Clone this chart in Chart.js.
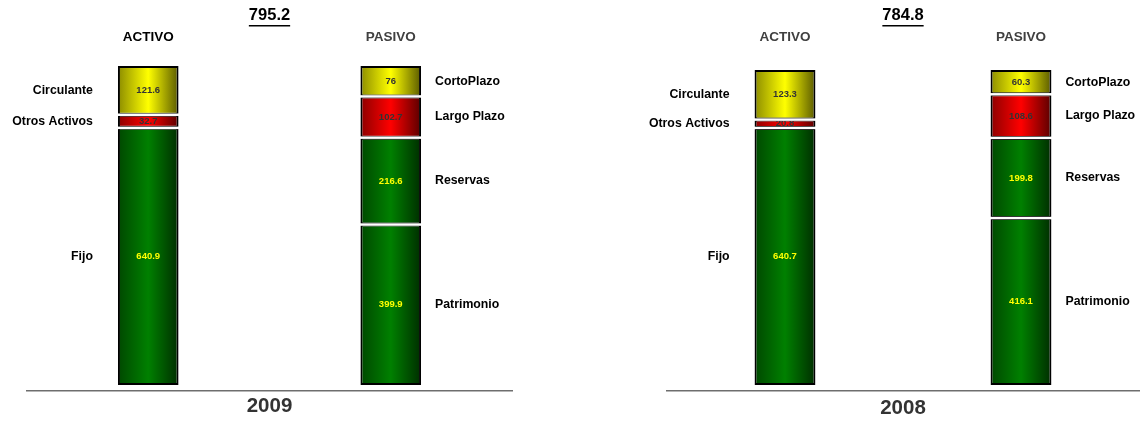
<!DOCTYPE html>
<html>
<head>
<meta charset="utf-8">
<title>Activo / Pasivo 2009 - 2008</title>
<script src="https://cdn.jsdelivr.net/npm/chart.js@4.4.1/dist/chart.umd.min.js"></script>
<style>
  html, body { margin: 0; padding: 0; background: #fff; }
  #wrap { position: relative; width: 1141px; height: 421px; overflow: hidden; }
  .panel { position: absolute; top: 0; }
  canvas { display: block; }
</style>
</head>
<body>
<div id="wrap">
  <div class="panel" style="left:0"><canvas id="c2009" width="570" height="421"></canvas></div>
  <div class="panel" style="left:570px"><canvas id="c2008" width="571" height="421"></canvas></div>
</div>

<script>
/* ── Data ───────────────────────────────────────────────────────────── */
const SIDES        = ['ACTIVO', 'PASIVO'];
const ACTIVO_NAMES = ['Fijo', 'Otros Activos', 'Circulante'];
const PASIVO_NAMES = ['Patrimonio', 'Reservas', 'Largo Plazo', 'CortoPlazo'];

const ACTIVO_2009 = [640.9, 32.7, 121.6];
const PASIVO_2009 = [399.9, 216.6, 102.7, 76];
const ACTIVO_2008 = [640.7, 20.8, 123.3];
const PASIVO_2008 = [416.1, 199.8, 108.6, 60.3];

/* ── Styles ─────────────────────────────────────────────────────────── */
const GREEN  = ['#004800', '#008000', '#002e00'];
const RED    = ['#8c0000', '#ff0000', '#5a0000'];
const YELLOW = ['#8c8c00', '#ffff00', '#5a5a00'];
const ACTIVO_FILLS = [GREEN, RED, YELLOW];
const PASIVO_FILLS = [GREEN, GREEN, RED, YELLOW];
const FONT = '"Liberation Sans", Arial, sans-serif';

const TITLE_SIZE = 16.5;
const TITLE_PAD  = { top: 6, bottom: 4 };
const AREA_TOP   = 56;   // chart area top (px)
const TOP_AXIS_H = AREA_TOP - (TITLE_PAD.top + TITLE_SIZE * 1.2 + TITLE_PAD.bottom);

Chart.defaults.font.family = FONT;

/* ── Helpers ────────────────────────────────────────────────────────── */
function gradientFill(stops, barPct) {
  return (c) => {
    const chart = c.chart;
    const xs = chart.scales.x;
    if (!xs || !chart.chartArea || c.dataIndex == null) return stops[1];
    const cx = xs.getPixelForValue(c.dataIndex);
    const half = xs.width / SIDES.length * barPct / 2;
    if (!Number.isFinite(cx) || !Number.isFinite(half) || half <= 0) return stops[1];
    const g = chart.ctx.createLinearGradient(cx - half, 0, cx + half, 0);
    g.addColorStop(0, stops[0]);
    g.addColorStop(0.5, stops[1]);
    g.addColorStop(1, stops[2]);
    return g;
  };
}

function makeSet(label, data, stops, barPct) {
  return {
    label,
    data,
    backgroundColor: gradientFill(stops, barPct),
    valueColor: stops === GREEN ? '#ffff00' : '#333333',
  };
}

function buildDatasets(activo, pasivo, barPct) {
  const sets = [];
  activo.forEach((v, i) => sets.push(makeSet(ACTIVO_NAMES[i], [v, null], ACTIVO_FILLS[i], barPct)));
  pasivo.forEach((v, i) => sets.push(makeSet(PASIVO_NAMES[i], [null, v], PASIVO_FILLS[i], barPct)));
  return sets;
}

const sum = arr => arr.reduce((a, b) => a + b, 0);

/* ── Plugin: white gaps, values inside bars, names beside bars ──────── */
const segmentText = {
  id: 'segmentText',
  afterDatasetsDraw(chart) {
    const ctx = chart.ctx;
    const zero = chart.scales.y.getPixelForValue(0);
    ctx.save();
    chart.data.datasets.forEach((ds, i) => {
      chart.getDatasetMeta(i).data.forEach((bar, j) => {
        const v = ds.data[j];
        if (v == null) return;
        const { x, y, base, width } = bar.getProps(['x', 'y', 'base', 'width'], true);
        const left = x - width / 2;
        const right = x + width / 2;
        const mid = (y + base) / 2;

        if (Math.abs(base - zero) > 1) {
          ctx.fillStyle = '#ffffff';
          ctx.fillRect(left - 1, base - 1.25, width + 2, 2.5);
        }

        ctx.textBaseline = 'middle';
        ctx.textAlign = 'center';
        ctx.font = 'bold 9.5px ' + FONT;
        ctx.fillStyle = ds.valueColor;
        ctx.fillText(String(v), x, mid);

        ctx.font = 'bold 12.3px ' + FONT;
        ctx.fillStyle = '#000';
        if (j === 0) {
          ctx.textAlign = 'right';
          ctx.fillText(ds.label, left - 25, mid);
        } else {
          ctx.textAlign = 'left';
          ctx.fillText(ds.label, right + 14, mid);
        }
      });
    });
    ctx.restore();
  }
};

/* ── Plugin: underline the total in the title ───────────────────────── */
const titleUnderline = {
  id: 'titleUnderline',
  afterDraw(chart) {
    const tb = chart.titleBlock;
    if (!tb) return;
    const opts = chart.options.plugins.title;
    const font = Chart.helpers.toFont(opts.font);
    const pad = Chart.helpers.toPadding(opts.padding);
    const ctx = chart.ctx;
    ctx.save();
    ctx.font = font.string;
    const w = ctx.measureText(opts.text).width;
    const cx = (tb.left + tb.right) / 2;
    const cy = tb.top + pad.top + font.lineHeight / 2;
    ctx.strokeStyle = '#000';
    ctx.lineWidth = 1.5;
    ctx.beginPath();
    ctx.moveTo(cx - w / 2, cy + font.size / 2 + 1.5);
    ctx.lineTo(cx + w / 2, cy + font.size / 2 + 1.5);
    ctx.stroke();
    ctx.restore();
  }
};

/* ── Chart factory ──────────────────────────────────────────────────── */
function makeChart(id, cfg) {
  return new Chart(document.getElementById(id), {
    type: 'bar',
    data: {
      labels: SIDES,
      datasets: buildDatasets(cfg.activo, cfg.pasivo, cfg.barPct),
    },
    options: {
      responsive: false,
      animation: false,
      events: [],
      layout: { padding: { left: cfg.padL, right: cfg.padR, top: 0, bottom: 0 } },
      datasets: {
        bar: {
          categoryPercentage: 1,
          barPercentage: cfg.barPct,
          borderSkipped: false,
          borderWidth: 2,
          borderColor: '#000',
        },
      },
      plugins: {
        legend: { display: false },
        tooltip: { enabled: false },
        title: {
          display: true,
          text: sum(cfg.activo).toFixed(1),
          fullSize: false,
          color: '#000',
          font: { size: TITLE_SIZE, weight: 'bold' },
          padding: TITLE_PAD,
        },
      },
      scales: {
        x: {
          position: 'top',
          stacked: true,
          grid: { display: false, drawTicks: false },
          border: { display: false },
          ticks: {
            color: c => cfg.sideColors[c.index],
            padding: 11,
            font: { size: 13.5, weight: 'bold' },
          },
          afterFit: s => { s.height = TOP_AXIS_H; },
        },
        xb: {
          type: 'category',
          position: 'bottom',
          grid: { display: false, drawTicks: false },
          border: { display: true, color: '#6e6e6e', width: 1.5 },
          ticks: { display: false },
          title: {
            display: true,
            text: cfg.year,
            color: '#333333',
            font: { size: 20.5, weight: 'bold' },
            padding: { top: 0, bottom: cfg.yearPad },
          },
          afterFit: s => { s.height = 30; },
        },
        y: { display: false, stacked: true, min: -15, max: 820 },
      },
    },
    plugins: [segmentText, titleUnderline],
  });
}

makeChart('c2009', {
  activo: ACTIVO_2009, pasivo: PASIVO_2009, year: '2009',
  padL: 27, padR: 58, barPct: 0.25, yearPad: 2,
  sideColors: ['#000000', '#404040'],
});

makeChart('c2008', {
  activo: ACTIVO_2008, pasivo: PASIVO_2008, year: '2008',
  padL: 97, padR: 2, barPct: 0.258, yearPad: 0,
  sideColors: ['#404040', '#404040'],
});
</script>
</body>
</html>
